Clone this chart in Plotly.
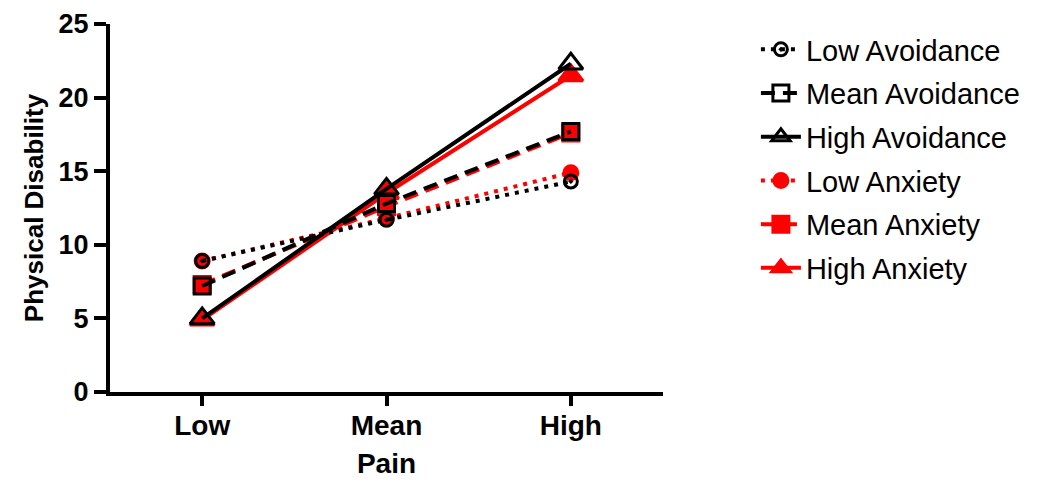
import plotly.graph_objects as go

pain_levels = ["Low", "Mean", "High"]

low_avoidance = [8.9, 11.7, 14.3]
mean_avoidance = [7.2, 12.8, 17.7]
high_avoidance = [5.0, 13.8, 22.3]
low_anxiety = [8.9, 11.8, 14.9]
mean_anxiety = [7.3, 12.6, 17.6]
high_anxiety = [4.9, 13.5, 21.5]

y_ticks = [0, 5, 10, 15, 20, 25]

RED = "#ff0000"
BLACK = "#000000"
DOT = "4px,6px"
DASH = "14px,8px"

fig = go.Figure()

# red (anxiety) series drawn first, black (avoidance) on top
series = [
    ("Low Anxiety", low_anxiety, RED, DOT, "circle", 14, 4),
    ("Mean Anxiety", mean_anxiety, RED, DASH, "square", 16, 5),
    ("High Anxiety", high_anxiety, RED, "solid", "triangle-up", 21, 6),
    ("Low Avoidance", low_avoidance, BLACK, DOT, "circle-open-dot", 13, 1),
    ("Mean Avoidance", mean_avoidance, BLACK, DASH, "square-open", 16, 2),
    ("High Avoidance", high_avoidance, BLACK, "solid", "triangle-up-open", 21, 3),
]

for name, vals, color, dash, sym, size, rank in series:
    fig.add_trace(go.Scatter(
        x=pain_levels, y=vals, name=name, mode="lines+markers",
        line=dict(color=color, width=4, dash=dash),
        marker=dict(symbol=sym, size=size, color=color,
                    line=dict(color=color, width=3)),
        legendrank=rank, legendgroup=name,
    ))

fig.update_layout(
    width=1033, height=475,
    margin=dict(l=102, r=378, t=16, b=91, autoexpand=False),
    paper_bgcolor="white", plot_bgcolor="white",
    font=dict(family="Liberation Sans, Arial, sans-serif", color="black"),
    showlegend=True,
    legend=dict(x=1.168, y=1.0, xanchor="left", yanchor="top",
                font=dict(size=29, color="black"),
                tracegroupgap=3, itemwidth=40,
                bgcolor="rgba(0,0,0,0)"),
)

fig.update_xaxes(
    type="category", categoryorder="array", categoryarray=pain_levels,
    range=[-0.5, 2.5], automargin=False,
    showline=True, linewidth=4, linecolor="black",
    ticks="outside", ticklen=10, tickwidth=4, tickcolor="black",
    ticklabelstandoff=-5,
    tickfont=dict(size=28, family="Liberation Sans, Arial, sans-serif", weight="bold"),
    title=dict(text="<b>Pain</b>", font=dict(size=28), standoff=15),
    showgrid=False, zeroline=False,
)
fig.update_yaxes(
    range=[0, 25], tickvals=y_ticks, automargin=False,
    showline=True, linewidth=4, linecolor="black",
    ticks="outside", ticklen=12, tickwidth=4, tickcolor="black",
    tickfont=dict(size=27, family="Liberation Sans, Arial, sans-serif", weight="bold"),
    title=dict(text="<b>Physical Disability</b>", font=dict(size=26), standoff=8),
    showgrid=False, zeroline=False,
)

fig.write_html("out.html")
